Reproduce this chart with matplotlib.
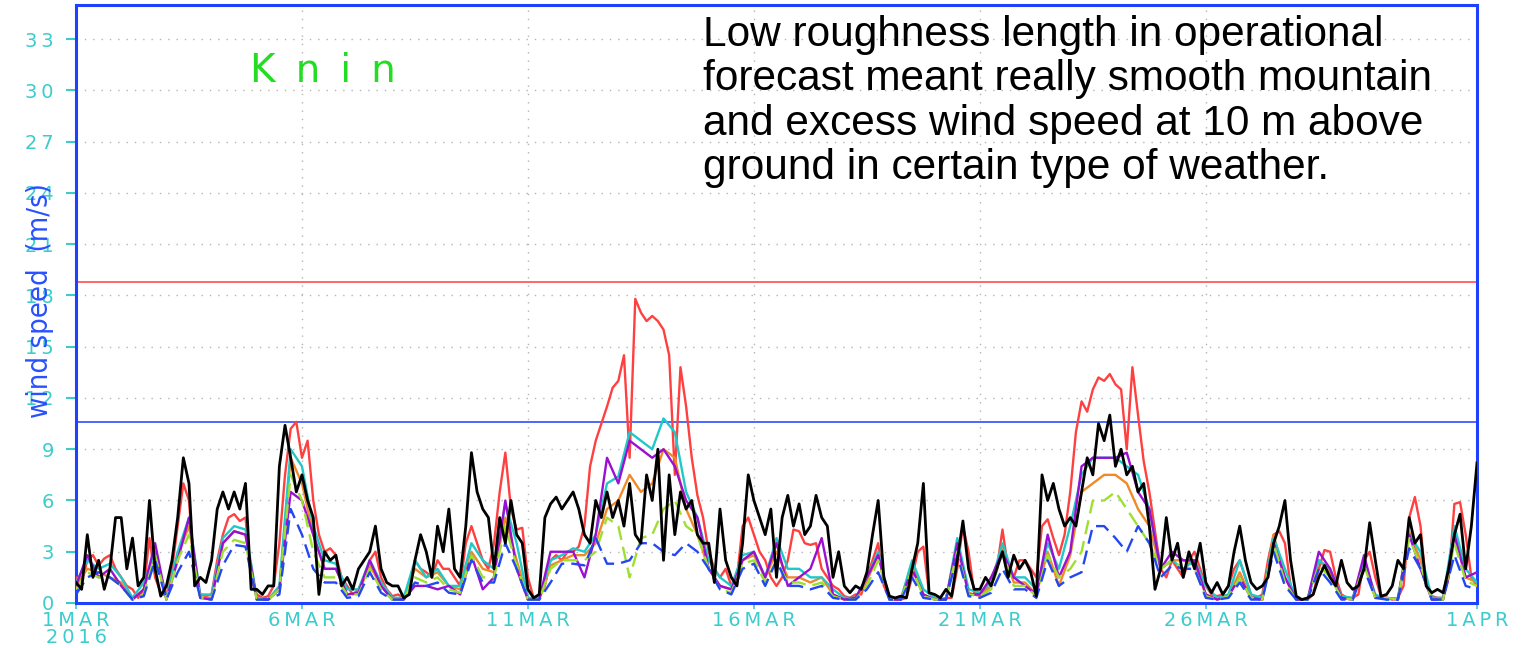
import numpy as np
import matplotlib
matplotlib.use("Agg")
import matplotlib.pyplot as plt

# wind speed at Knin, 1 Mar - 1 Apr 2016 (m/s)
# black = observation, 3-hourly; red 3-hourly; other forecasts 6-hourly
obs = [
    1.2, 0.8, 4.0, 1.5, 2.5, 0.8, 2.0, 5.0,
    5.0, 2.0, 3.8, 1.0, 1.5, 6.0, 2.0, 0.4,
    1.0, 2.5, 5.0, 8.5, 7.0, 1.0, 1.5, 1.2,
    2.5, 5.5, 6.5, 5.5, 6.5, 5.5, 7.0, 0.8,
    0.8, 0.5, 1.0, 1.0, 8.0, 10.4, 8.5, 6.5,
    7.5, 6.0, 5.0, 0.5, 3.0, 2.5, 2.8, 1.0,
    1.5, 0.8, 2.0, 2.5, 3.0, 4.5, 2.0, 1.2,
    1.0, 1.0, 0.3, 0.5, 2.5, 4.0, 3.0, 1.5,
    4.5, 3.0, 5.5, 2.0, 1.5, 4.5, 8.8, 6.5,
    5.5, 5.0, 2.0, 5.0, 3.5, 6.0, 4.0, 3.5,
    0.8, 0.3, 0.5, 5.0, 5.8, 6.2, 5.5, 6.0,
    6.5, 5.5, 4.0, 3.5, 6.0, 5.0, 6.5, 5.0,
    6.0, 4.5, 7.0, 4.0, 3.5, 7.5, 6.0, 9.0,
    2.5, 7.5, 4.0, 6.5, 5.5, 6.0, 4.0, 3.5,
    3.5, 1.2, 5.5, 2.5, 1.5, 1.0, 3.5, 7.5,
    6.0, 5.0, 4.0, 5.5, 1.5, 5.0, 6.3, 4.5,
    5.8, 4.0, 4.5, 6.3, 5.0, 4.5, 1.5, 3.0,
    1.0, 0.6, 1.0, 0.8, 1.8, 4.0, 6.0, 1.5,
    0.4, 0.3, 0.4, 0.3, 2.0, 3.5, 7.0, 0.6,
    0.5, 0.3, 0.8, 0.4, 2.5, 4.8, 2.0, 0.8,
    0.8, 1.5, 1.0, 2.0, 3.0, 1.5, 2.8, 2.0,
    2.5, 1.8, 0.4, 7.5, 6.0, 7.0, 5.5, 4.5,
    5.0, 4.5, 6.5, 8.5, 7.5, 10.5, 9.5, 11.0,
    8.0, 9.0, 7.5, 8.0, 6.5, 7.0, 4.5, 0.8,
    2.0, 5.0, 2.5, 3.5, 1.5, 3.0, 2.0, 3.5,
    1.2, 0.6, 1.2, 0.5, 1.0, 3.0, 4.5, 2.5,
    1.2, 0.8, 1.0, 1.5, 3.5, 4.5, 6.0, 2.5,
    0.4, 0.2, 0.3, 0.5, 1.5, 2.2, 1.5, 1.0,
    2.5, 1.2, 0.8, 1.0, 2.0, 4.7, 2.5, 0.4,
    0.5, 1.0, 2.5, 2.0, 5.0, 3.5, 4.0, 1.0,
    0.6, 0.8, 0.6, 2.0, 4.0, 5.2, 2.0, 4.5,
    8.2,
]

oper = [
    1.5, 1.2, 2.5, 2.8, 2.2, 2.6, 2.8, 2.0,
    1.5, 1.0, 0.8, 0.3, 0.8, 3.8, 1.5, 0.6,
    0.4, 2.0, 4.5, 7.0, 6.0, 1.5, 0.5, 0.4,
    0.5, 2.5, 4.0, 5.0, 5.2, 4.8, 5.0, 1.5,
    0.5, 0.3, 0.4, 1.0, 3.5, 7.5, 10.2, 10.6,
    8.5, 9.5, 6.0, 4.0, 3.0, 3.2, 2.8, 1.5,
    1.0, 0.5, 0.8, 1.5, 2.5, 3.0, 1.5, 0.8,
    0.4, 0.5, 0.3, 0.8, 2.5, 2.0, 1.8, 1.5,
    2.5, 2.0, 2.0, 1.5, 1.0, 3.5, 4.5, 3.5,
    2.5, 2.0, 3.5, 6.5, 8.8, 5.5, 4.3, 4.4,
    1.5, 0.3, 0.3, 1.0, 2.5, 2.8, 2.5, 3.0,
    3.0, 3.3, 4.5, 8.0, 9.5, 10.5, 11.5, 12.6,
    13.0, 14.5, 8.5, 17.8, 17.0, 16.5, 16.8, 16.5,
    16.0, 14.5, 7.5, 13.8, 11.5, 8.5, 6.3, 5.0,
    3.0, 2.0, 1.5, 2.0, 1.0, 1.5, 4.5, 5.0,
    4.0, 3.0, 2.5, 1.5, 1.0, 1.5, 2.5, 4.3,
    4.2, 3.5, 3.4, 3.5, 2.0, 1.5, 1.0, 0.8,
    0.4, 0.3, 0.5, 0.5, 1.5, 2.5, 3.5, 1.0,
    0.3, 0.2, 0.2, 0.3, 1.5, 3.0, 3.3, 0.6,
    0.3, 0.2, 0.3, 0.3, 2.0, 4.5, 3.0, 0.6,
    0.5, 0.8, 1.5, 2.0, 4.3, 2.0, 1.5, 2.5,
    2.5, 2.0, 1.5, 4.5, 4.9, 3.8, 2.8, 4.0,
    6.5, 10.0, 11.8, 11.2, 12.5, 13.2, 13.0, 13.4,
    12.8, 12.5, 9.0, 13.8, 11.0, 8.3, 6.5, 4.2,
    2.0, 1.5, 2.5, 2.0, 1.5, 2.5, 3.0, 2.0,
    1.0, 0.5, 0.4, 0.5, 1.0, 2.0, 2.5, 1.5,
    0.5, 0.3, 0.5, 2.5, 4.0, 4.2, 3.5, 1.0,
    0.3, 0.2, 0.2, 0.5, 2.0, 3.1, 3.0, 1.5,
    0.5, 0.3, 0.3, 0.5, 2.5, 3.0, 1.5, 0.4,
    0.3, 0.2, 0.3, 1.0, 5.0, 6.2, 4.5, 1.0,
    0.4, 0.3, 0.3, 1.5, 5.8, 5.9, 4.0, 1.5,
    1.0,
]

cyan = [
    1.2, 2.5, 2.0, 2.3,  1.5, 0.3, 1.2, 3.0,  0.3, 3.0, 5.0, 0.5,  0.5, 3.8, 4.5, 4.3,
    0.3, 0.2, 1.0, 9.0,  8.0, 4.5, 2.5, 2.3,  0.8, 0.8, 2.5, 1.2,  0.3, 0.3, 2.5, 1.5,
    2.0, 1.0, 1.0, 3.5,  2.5, 2.0, 5.8, 3.5,  0.3, 0.3, 2.5, 2.8,  3.2, 3.0, 4.0, 7.0,
    7.4, 10.0, 9.5, 9.0,  10.8, 10.0, 6.5, 5.0,  2.5, 1.5, 1.0, 2.8,  3.0, 1.5, 3.8, 2.0,
    2.0, 1.5, 1.5, 0.8,  0.3, 0.3, 1.5, 3.0,  0.3, 0.2, 2.5, 0.8,  0.3, 0.2, 3.8, 0.8,
    0.6, 1.2, 3.5, 1.5,  1.5, 0.8, 3.5, 2.0,  4.5, 7.5, 8.5, 8.5,  8.5, 8.0, 7.5, 5.5,
    2.0, 2.5, 2.0, 2.5,  1.0, 0.3, 0.5, 2.5,  0.5, 0.3, 3.8, 2.0,  0.2, 0.2, 2.5, 2.0,
    0.4, 0.3, 2.5, 0.5,  0.2, 0.3, 4.0, 3.0,  0.3, 0.3, 4.5, 2.0,
    1.2,
]

purple = [
    1.0, 2.8, 1.5, 2.0,  1.0, 0.2, 0.8, 3.5,  0.2, 2.5, 5.0, 0.3,  0.2, 3.5, 4.2, 4.0,
    0.2, 0.2, 0.8, 6.5,  6.0, 4.0, 2.0, 2.0,  0.5, 0.6, 2.5, 1.0,  0.2, 0.2, 1.0, 1.0,
    0.8, 1.0, 0.5, 2.8,  0.8, 1.5, 6.0, 2.0,  0.2, 0.2, 3.0, 3.0,  3.0, 1.5, 4.0, 8.5,
    7.0, 9.5, 9.0, 8.5,  9.0, 8.0, 6.0, 5.0,  2.0, 1.0, 0.8, 2.5,  3.0, 1.5, 3.5, 1.0,
    1.5, 2.0, 3.8, 0.5,  0.2, 0.3, 1.5, 2.8,  0.2, 0.2, 2.0, 0.5,  0.2, 0.2, 3.5, 0.5,
    0.5, 1.5, 3.0, 1.5,  1.0, 0.5, 4.0, 1.5,  3.0, 8.0, 8.5, 8.5,  8.5, 8.8, 6.5, 5.5,
    2.0, 3.0, 2.5, 2.5,  0.5, 0.2, 0.4, 1.5,  0.3, 0.2, 3.5, 1.5,  0.2, 0.2, 3.0, 2.0,
    0.3, 0.2, 2.8, 0.3,  0.3, 0.2, 4.0, 2.0,  0.2, 0.2, 4.0, 1.5,
    1.8,
]

orange = [
    1.0, 2.0, 1.8, 1.5,  1.2, 0.2, 0.8, 3.0,  0.2, 2.8, 4.5, 0.3,  0.3, 3.5, 4.2, 4.0,
    0.2, 0.2, 0.8, 8.5,  7.0, 4.0, 2.0, 2.0,  0.5, 0.6, 2.2, 1.0,  0.2, 0.3, 2.0, 1.5,
    1.8, 1.0, 0.8, 3.0,  2.0, 1.8, 5.0, 2.5,  0.2, 0.2, 2.2, 2.5,  2.8, 2.8, 3.5, 5.5,
    6.0, 7.5, 6.5, 7.0,  9.0, 8.5, 5.5, 4.0,  2.0, 1.0, 0.8, 2.5,  2.8, 1.5, 3.0, 1.5,
    1.5, 1.2, 1.5, 0.5,  0.2, 0.2, 1.3, 2.8,  0.2, 0.2, 2.3, 0.5,  0.2, 0.2, 3.5, 0.6,
    0.4, 1.0, 3.2, 1.2,  1.2, 0.5, 3.0, 1.0,  2.8, 6.5, 7.0, 7.5,  7.5, 7.0, 5.5, 4.5,
    2.0, 2.5, 2.5, 2.2,  0.5, 0.2, 0.4, 1.8,  0.3, 0.2, 4.0, 1.5,  0.2, 0.2, 2.5, 1.8,
    0.3, 0.2, 2.5, 0.3,  0.3, 0.2, 4.2, 2.5,  0.2, 0.2, 4.0, 1.5,
    1.2,
]

green = [
    0.8, 1.8, 1.5, 1.5,  1.0, 0.2, 0.5, 2.8,  0.2, 2.5, 4.0, 0.3,  0.2, 3.0, 3.7, 3.5,
    0.2, 0.2, 0.8, 7.5,  6.0, 3.0, 1.5, 1.5,  0.5, 0.5, 2.0, 0.8,  0.2, 0.2, 1.5, 1.2,
    1.5, 0.8, 0.6, 2.8,  1.5, 1.5, 4.5, 2.2,  0.2, 0.2, 2.0, 2.5,  2.5, 2.5, 3.0, 5.0,
    4.5, 1.5, 3.8, 4.0,  5.5, 6.0, 4.5, 4.0,  2.0, 0.8, 0.6, 2.3,  2.5, 1.2, 2.5, 1.2,
    1.2, 1.0, 1.2, 0.4,  0.2, 0.2, 1.0, 2.5,  0.2, 0.2, 2.0, 0.4,  0.2, 0.2, 3.0, 0.5,
    0.4, 0.8, 3.0, 1.0,  1.0, 0.4, 2.8, 1.5,  2.0, 3.0, 6.0, 6.0,  6.5, 5.5, 4.5, 3.5,
    2.0, 2.5, 2.0, 2.0,  0.4, 0.2, 0.4, 1.5,  0.3, 0.2, 3.5, 1.2,  0.2, 0.2, 2.2, 1.5,
    0.3, 0.2, 2.2, 0.3,  0.3, 0.2, 3.8, 2.2,  0.2, 0.2, 3.5, 1.3,
    1.0,
]

blue = [
    0.5, 1.5, 1.8, 1.5,  1.0, 0.2, 0.4, 2.5,  0.2, 1.8, 3.0, 0.3,  0.2, 2.2, 3.4, 3.3,
    0.2, 0.2, 0.5, 5.5,  4.0, 2.0, 1.2, 1.2,  0.3, 0.4, 1.8, 0.6,  0.2, 0.2, 1.2, 1.0,
    1.2, 0.6, 0.5, 2.5,  1.2, 1.2, 3.5, 2.0,  0.2, 0.2, 1.2, 2.3,  2.3, 2.2, 3.8, 2.3,
    2.3, 2.5, 3.5, 3.5,  3.0, 2.8, 3.5, 3.0,  2.0, 0.8, 0.5, 2.0,  2.3, 1.0, 2.5, 1.0,
    1.0, 0.8, 1.0, 0.3,  0.2, 0.2, 0.8, 1.8,  0.2, 0.2, 1.5, 0.3,  0.2, 0.2, 2.8, 0.4,
    0.3, 0.6, 2.0, 0.8,  0.8, 0.3, 2.5, 1.0,  1.5, 1.8, 4.5, 4.5,  3.8, 3.0, 4.5, 3.5,
    1.5, 2.2, 2.0, 2.0,  0.3, 0.2, 0.3, 1.2,  0.2, 0.2, 3.0, 1.0,  0.2, 0.2, 2.0, 1.2,
    0.2, 0.2, 2.0, 0.3,  0.2, 0.2, 3.2, 2.0,  0.2, 0.2, 2.8, 1.0,
    0.8,
]

# threshold lines
red_limit = 18.8
blue_limit = 10.6

tick_days = [0, 5, 10, 15, 20, 25, 31]
tick_labels = ["1MAR\n2016", "6MAR", "11MAR", "16MAR", "21MAR", "26MAR", "1APR"]
y_ticks = [0, 3, 6, 9, 12, 15, 18, 21, 24, 27, 30, 33]

note = ("Low roughness length in operational\n"
        "forecast meant really smooth mountain\n"
        "and excess wind speed at 10 m above\n"
        "ground in certain type of weather.")


def spaced(s):
    # wide letter spacing like the original plotting package
    return "\n".join("\u2009".join(line) for line in s.split("\n"))


t3 = np.arange(len(obs)) / 8.0
t6 = np.arange(len(cyan)) / 4.0

fig = plt.figure(figsize=(15.24, 6.48), dpi=100)
ax = fig.add_axes([76/1524, 45/648, 1401/1524, 598/648])

tick_col = "#3ccccc"
ax.grid(True, color="#b4b4b4", linestyle=(0, (1, 5)), linewidth=1.0)
ax.set_axisbelow(True)

ax.axhline(red_limit, color="#ff5a5a", lw=1.3, zorder=2)
ax.axhline(blue_limit, color="#3a5cff", lw=1.3, zorder=2)

ax.plot(t3, oper, color="#ff4040", lw=1.7, zorder=3)
ax.plot(t6, orange, color="#f08a28", lw=1.7, zorder=3)
ax.plot(t6, cyan, color="#20c8c8", lw=1.7, zorder=3)
ax.plot(t6, purple, color="#9a10d0", lw=1.7, zorder=3)
ax.plot(t6, green, color="#9ee030", lw=1.7, dashes=(6, 3), zorder=3)
ax.plot(t6, blue, color="#2448f0", lw=1.7, dashes=(6, 3), zorder=3)
ax.plot(t3, obs, color="black", lw=2.0, zorder=4)

ax.set_xlim(0, 31)
ax.set_ylim(0, 35)
ax.set_yticks(y_ticks)
ax.set_yticklabels([spaced(str(v)) for v in y_ticks])
ax.set_xticks(tick_days)
ax.set_xticklabels([spaced(s) for s in tick_labels], linespacing=0.85)
ax.tick_params(axis="y", colors=tick_col, length=7, width=1.5, pad=9, labelsize=14)
ax.tick_params(axis="x", colors=tick_col, length=4, width=1.2, pad=2, labelsize=14)
for lab in ax.get_xticklabels() + ax.get_yticklabels():
    lab.set_fontfamily(["DejaVu Sans"])

for sp in ax.spines.values():
    sp.set_color("#2040ff")
    sp.set_linewidth(2.2)

fig.text(0.026, 0.537, "wind speed  (m/s)", rotation=90, color="#2850ff",
         fontsize=21, va="center", ha="center", fontstretch="condensed",
         family=["Liberation Sans Narrow", "DejaVu Sans"])

ax.text(0.176, 0.89, "K \u2009n \u2009i \u2009n", transform=ax.transAxes,
        color="#22dd22", fontsize=28, ha="center", va="center",
        family="DejaVu Sans")

fig.text(703/1524, 1 - 15/648, note, ha="left", va="top", fontsize=30.5,
         linespacing=1.14, color="black", family=["Liberation Sans", "DejaVu Sans"])

fig.savefig("out.png", dpi=100)
